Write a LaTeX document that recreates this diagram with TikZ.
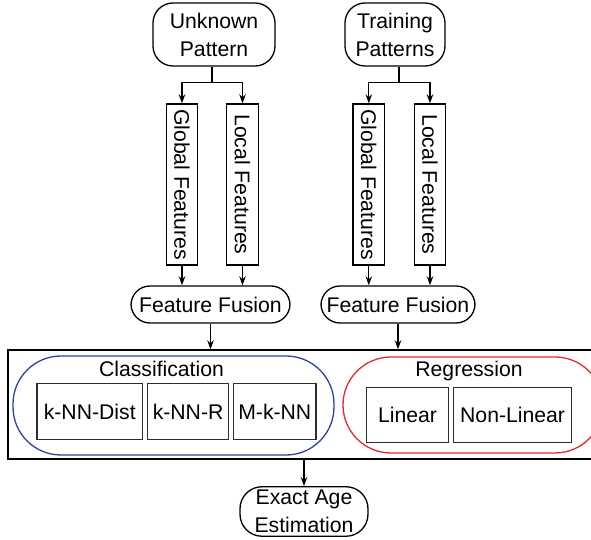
\documentclass[tikz,border=0pt]{standalone}
\usepackage{fontspec}
\usepackage{graphicx}
\setmainfont{Liberation Sans}
\usetikzlibrary{arrows.meta}
\definecolor{clsblue}{RGB}{45,65,165}
\definecolor{regred}{RGB}{220,45,45}
\definecolor{boxgray}{RGB}{45,45,45}
\begin{document}
\begin{tikzpicture}[x=0.5pt,y=-0.5pt,
  every node/.style={font=\fontsize{10.6}{14}\selectfont, inner sep=0pt, align=center},
  term/.style={draw, line width=0.65pt, rounded corners=#1},
  term/.default=10pt,
  featbox/.style={draw, line width=0.65pt, minimum width=15.75pt, minimum height=80.5pt},
  method/.style={draw=boxgray, line width=0.65pt, minimum height=27.75pt},
  arr/.style={line width=0.65pt, -{Stealth[length=4.5pt,width=3.2pt]}},
  link/.style={line width=0.65pt}]
  \useasboundingbox (0,0) rectangle (591,540);
  \clip (0,0) rectangle (591,540);

  % inputs
  \node[term, minimum width=61pt, minimum height=31.5pt] (unk) at (214,34.5) {Unknown\\Pattern};
  \node[term, minimum width=50pt, minimum height=31.5pt] (trn) at (395,34.5) {Training\\Patterns};

  % feature extraction
  \node[featbox] (gfL) at (182,184.5) {\rotatebox{-90}{Global Features}};
  \node[featbox] (lfL) at (242.5,184.5) {\rotatebox{-90}{Local Features}};
  \node[featbox] (gfR) at (368.8,184.5) {\rotatebox{-90}{Global Features}};
  \node[featbox] (lfR) at (430,184.5) {\rotatebox{-90}{Local Features}};

  % fusion
  \node[term=9.5pt, minimum width=79.5pt, minimum height=18.5pt] (ffL) at (210.5,304.5) {Feature Fusion};
  \node[term=9.5pt, minimum width=77pt, minimum height=18.5pt] (ffR) at (398,304.5) {Feature Fusion};

  % learning stage
  \node[draw, line width=0.65pt, minimum width=300pt, minimum height=54.5pt] (sys) at (308,404.5) {};
  \node[draw=clsblue, line width=0.65pt, rounded corners=24pt, minimum width=160.5pt, minimum height=49.5pt] (cls) at (173.5,405.5) {};
  \node[draw=regred, line width=0.65pt, rounded corners=24pt, minimum width=130pt, minimum height=48pt] (reg) at (473,405) {};
  \node (clsT) at (161.5,369) {Classification};
  \node (regT) at (469,371.5) {Regression};

  \node[method, minimum width=52.75pt] (knnd) at (89.75,411.5) {k-NN-Dist};
  \node[method, minimum width=40.7pt] (knnr) at (188.1,411.5) {k-NN-R};
  \node[method, minimum width=41.1pt] (mknn) at (274.8,411.5) {M-k-NN};
  \node[method, minimum width=41pt] (lin) at (407.5,415) {Linear};
  \node[method, minimum width=59.2pt] (nlin) at (512.6,415) {Non-Linear};

  % output
  \node[term=11pt, minimum width=64pt, minimum height=24.75pt] (exa) at (304,511.5) {Exact Age\\Estimation};

  % connectors
  \coordinate (jL) at (212,82.7);
  \coordinate (jR) at (399,82.7);
  \draw[link] (jL |- unk.south) -- (jL);
  \draw[arr] (jL) -| (gfL.north);
  \draw[arr] (jL) -| (lfL.north);
  \draw[link] (jR |- trn.south) -- (jR);
  \draw[arr] (jR) -| (gfR.north);
  \draw[arr] (jR) -| (lfR.north);

  \draw[arr] (gfL.south) -- (gfL.south |- ffL.north);
  \draw[arr] (lfL.south) -- (lfL.south |- ffL.north);
  \draw[arr] (gfR.south) -- (gfR.south |- ffR.north);
  \draw[arr] (lfR.south) -- (lfR.south |- ffR.north);

  \draw[arr] (ffL.south) -- (ffL.south |- sys.north);
  \draw[arr] (ffR.south) -- (ffR.south |- sys.north);
  \draw[arr] (exa.north |- sys.south) -- (exa.north);
\end{tikzpicture}
\end{document}
